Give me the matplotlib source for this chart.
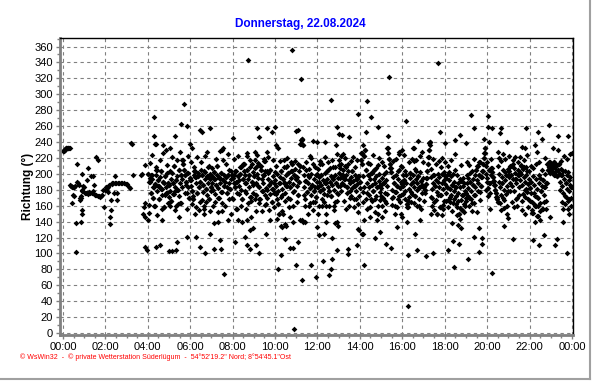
import matplotlib
matplotlib.use("Agg")
import numpy as np
import matplotlib.pyplot as plt
from matplotlib.ticker import MultipleLocator, FuncFormatter
from matplotlib.lines import Line2D

# wind direction readings, 22.08.2024
# 00:00 - 04:00, sparse readings (hour, degrees)
early_t = [0.00, 0.03, 0.05, 0.08, 0.10, 0.13, 0.16, 0.19, 0.22, 0.25, 0.28, 0.31,
           0.33, 0.36, 0.40, 0.44, 0.47, 0.50, 0.53, 0.57, 0.49, 0.52, 0.44, 0.60,
           0.63, 0.64, 0.68, 0.72, 0.76, 0.80, 0.82, 0.85, 0.86, 0.88, 0.90, 0.85,
           0.91, 0.91, 0.91, 0.95, 0.99, 1.04, 1.08, 1.11, 1.14, 1.19, 1.19, 1.23,
           1.27, 1.32, 1.37, 1.40, 1.43, 1.43, 1.47, 1.52, 1.58, 1.58, 1.63, 1.66,
           1.70, 1.74, 1.78, 1.82, 1.88, 1.94, 1.98, 2.02, 2.05, 2.08, 2.13, 2.13,
           2.17, 2.21, 2.21, 2.26, 2.26, 2.29, 2.33, 2.37, 2.41, 2.45, 2.45, 2.50,
           2.53, 2.57, 2.60, 2.66, 2.73, 2.80, 2.88, 2.95, 3.04, 3.10, 3.15, 3.20,
           3.25, 3.31, 3.70, 3.74, 3.78, 3.83, 3.86, 3.89, 3.89, 3.89, 3.94, 4.01]
early_v = [229, 229, 230, 231, 230, 232, 232, 233, 233, 233, 232, 233,
           186, 185, 185, 184, 184, 183, 183, 185, 173, 172, 163, 138,
           102, 212, 190, 188, 186, 167, 170, 170, 172, 180, 178, 140,
           154, 149, 200, 185, 183, 176, 176, 176, 192, 207, 175, 177,
           176, 197, 176, 178, 197, 176, 186, 174, 173, 221, 218, 172,
           172, 171, 172, 174, 180, 158, 180, 181, 183, 182, 184, 177,
           186, 146, 137, 167, 154, 188, 187, 188, 176, 197, 189, 189,
           167, 176, 189, 188, 188, 188, 188, 187, 187, 184, 182, 239,
           237, 199, 199, 200, 150, 158, 163, 211, 146, 108, 104, 142]

# 04:00 - 24:00, main band, one reading per minute:
# odd minutes (a) and even minutes (b), 30 readings per hour each
a04 = [200, 161, 190, 195, 176, 198, 194, 170, 183, 160, 187, 199, 205, 178, 192,
       185, 168, 196, 203, 181, 174, 190, 188, 158, 197, 183, 176, 201, 189, 171]
a05 = [186, 179, 193, 166, 201, 188, 175, 210, 184, 159, 192, 197, 180, 172, 205,
       188, 163, 199, 194, 218, 212, 205, 198, 186, 190, 176, 201, 183, 170, 195]
a06 = [192, 185, 179, 172, 168, 199, 203, 196, 188, 176, 201, 197, 183, 165, 190,
       205, 199, 177, 186, 160, 194, 202, 181, 174, 197, 189, 168, 200, 193, 183]
a07 = [188, 197, 180, 202, 193, 175, 186, 199, 210, 182, 170, 195, 189, 201, 177,
       163, 192, 198, 185, 190, 196, 183, 176, 199, 205, 188, 181, 193, 170, 198]
a08 = [195, 188, 199, 183, 204, 190, 176, 197, 192, 185, 200, 208, 180, 169, 194,
       203, 212, 198, 188, 176, 205, 193, 183, 199, 208, 171, 166, 190, 202, 186]
a09 = [197, 207, 189, 173, 200, 214, 195, 183, 168, 210, 205, 193, 178, 188, 199,
       216, 203, 182, 170, 194, 201, 186, 175, 205, 190, 165, 181, 197, 188, 176]
a10 = [192, 185, 200, 178, 162, 150, 188, 196, 203, 181, 173, 194, 208, 189, 176,
       198, 185, 210, 201, 190, 168, 183, 195, 204, 212, 187, 179, 198, 206, 193]
a11 = [196, 185, 174, 203, 190, 210, 238, 242, 244, 236, 198, 183, 169, 191, 205,
       177, 188, 160, 196, 182, 173, 200, 186, 165, 193, 179, 184, 198, 171, 190]
a12 = [183, 196, 190, 178, 186, 199, 169, 192, 181, 175, 201, 188, 160, 194, 183,
       205, 178, 190, 197, 172, 186, 208, 193, 180, 164, 199, 188, 176, 195, 185]
a13 = [201, 207, 195, 212, 189, 198, 205, 186, 193, 210, 199, 176, 184, 203, 192,
       170, 188, 196, 182, 204, 191, 168, 185, 199, 178, 193, 187, 162, 197, 182]
a14 = [190, 218, 226, 212, 197, 184, 222, 230, 205, 188, 176, 214, 199, 183, 193,
       168, 201, 186, 178, 194, 205, 189, 172, 197, 183, 160, 191, 200, 177, 186]
a15 = [182, 195, 170, 188, 200, 176, 163, 192, 185, 232, 226, 219, 213, 207, 202,
       180, 171, 196, 188, 160, 177, 199, 185, 168, 193, 205, 182, 174, 190, 187]
a16 = [198, 185, 192, 204, 178, 188, 162, 158, 166, 181, 195, 201, 187, 175, 199,
       190, 183, 206, 172, 193, 188, 180, 197, 169, 184, 202, 191, 176, 186, 195]
a17 = [183, 176, 180, 187, 195, 203, 212, 221, 230, 240, 196, 181, 170, 188, 199,
       164, 185, 192, 177, 150, 190, 183, 196, 158, 174, 188, 200, 181, 166, 192]
a18 = [187, 195, 176, 183, 200, 168, 192, 181, 174, 197, 186, 163, 190, 179, 205,
       184, 172, 158, 188, 176, 150, 183, 167, 191, 155, 174, 185, 162, 179, 170]
a19 = [176, 188, 195, 182, 170, 201, 190, 178, 163, 194, 186, 173, 199, 184, 205,
       192, 210, 188, 198, 215, 177, 185, 196, 204, 212, 220, 226, 232, 200, 190]
a20 = [195, 182, 205, 188, 176, 199, 207, 202, 196, 191, 186, 180, 176, 171, 168,
       165, 190, 200, 183, 174, 196, 188, 205, 180, 167, 192, 199, 185, 160, 178]
a21 = [196, 203, 188, 210, 199, 185, 193, 207, 178, 201, 194, 189, 170, 205, 198,
       183, 192, 211, 200, 186, 175, 196, 208, 190, 181, 199, 204, 187, 168, 193]
a22 = [182, 176, 190, 165, 151, 197, 186, 172, 160, 193, 181, 147, 170, 188, 195,
       163, 178, 185, 156, 192, 174, 183, 200, 166, 189, 212, 205, 208, 215, 201]
a23 = [210, 206, 213, 201, 215, 198, 208, 203, 211, 197, 205, 212, 200, 190, 206,
       198, 185, 176, 194, 203, 172, 188, 181, 199, 166, 192, 178, 186, 170, 183]

b04 = [200, 151, 190, 214, 176, 198, 224, 170, 183, 160, 187, 209, 205, 148, 192,
       185, 168, 218, 203, 181, 156, 190, 226, 158, 197, 173, 176, 211, 189, 163]
b05 = [186, 159, 203, 166, 221, 188, 175, 210, 154, 179, 192, 217, 180, 162, 205,
       228, 163, 199, 184, 218, 212, 205, 198, 176, 190, 156, 201, 223, 170, 195]
b06 = [192, 215, 179, 162, 168, 209, 203, 196, 158, 176, 221, 197, 183, 155, 190,
       215, 199, 167, 186, 150, 204, 222, 181, 164, 197, 209, 168, 210, 153, 183]
b07 = [178, 207, 160, 202, 193, 165, 186, 219, 210, 152, 170, 195, 229, 201, 177,
       153, 192, 218, 185, 160, 196, 213, 176, 199, 225, 168, 181, 203, 150, 198]
b08 = [195, 168, 219, 183, 204, 190, 156, 197, 222, 175, 200, 208, 160, 169, 194,
       213, 212, 178, 188, 156, 205, 223, 163, 199, 218, 171, 146, 190, 212, 176]
b09 = [197, 217, 169, 173, 210, 224, 185, 163, 168, 210, 205, 153, 178, 198, 219,
       216, 173, 162, 180, 204, 221, 186, 155, 205, 190, 165, 181, 217, 158, 176]
b10 = [202, 175, 210, 168, 162, 150, 188, 216, 203, 171, 153, 194, 218, 189, 166,
       208, 185, 220, 201, 170, 158, 183, 215, 204, 212, 177, 159, 198, 216, 193]
b11 = [196, 165, 174, 213, 190, 210, 238, 242, 244, 236, 208, 173, 159, 191, 215,
       177, 198, 150, 206, 182, 163, 220, 186, 155, 213, 179, 164, 208, 171, 200]
b12 = [183, 206, 160, 178, 216, 199, 159, 212, 181, 165, 221, 188, 150, 204, 173,
       215, 178, 160, 207, 172, 196, 218, 193, 160, 154, 209, 188, 166, 225, 175]
b13 = [211, 217, 185, 222, 179, 198, 225, 166, 193, 220, 209, 156, 184, 213, 192,
       160, 178, 216, 172, 204, 221, 158, 185, 209, 168, 193, 217, 152, 197, 172]
b14 = [190, 218, 226, 212, 177, 164, 222, 230, 205, 168, 156, 214, 199, 173, 213,
       158, 201, 166, 178, 224, 205, 169, 152, 207, 183, 150, 211, 220, 167, 186]
b15 = [172, 215, 160, 188, 210, 166, 153, 202, 175, 232, 226, 219, 213, 207, 202,
       170, 161, 216, 188, 150, 177, 219, 185, 158, 203, 225, 172, 164, 210, 187]
b16 = [208, 175, 192, 224, 168, 198, 162, 158, 166, 171, 215, 201, 177, 165, 219,
       190, 163, 216, 172, 203, 218, 160, 197, 159, 184, 222, 191, 156, 186, 215]
b17 = [183, 166, 180, 187, 195, 203, 212, 221, 230, 240, 206, 171, 160, 198, 219,
       154, 185, 212, 167, 150, 200, 173, 216, 158, 174, 208, 220, 161, 156, 202]
b18 = [197, 215, 166, 183, 210, 158, 202, 171, 164, 217, 186, 153, 200, 169, 225,
       184, 162, 148, 198, 166, 150, 193, 157, 211, 155, 174, 195, 152, 189, 160]
b19 = [166, 198, 215, 172, 160, 211, 190, 168, 153, 204, 186, 163, 219, 174, 205,
       152, 210, 178, 198, 215, 167, 185, 196, 204, 212, 220, 226, 232, 210, 180]
b20 = [215, 172, 205, 188, 156, 219, 207, 202, 196, 191, 186, 180, 176, 171, 168,
       165, 210, 220, 163, 154, 216, 188, 225, 170, 157, 202, 219, 175, 150, 198]
b21 = [206, 223, 178, 210, 199, 165, 213, 217, 158, 221, 194, 169, 160, 215, 198,
       173, 202, 221, 210, 166, 155, 206, 218, 180, 171, 209, 224, 177, 158, 203]
b22 = [182, 166, 210, 155, 151, 207, 176, 162, 160, 213, 171, 147, 160, 198, 215,
       153, 178, 205, 156, 192, 164, 183, 220, 156, 189, 212, 205, 208, 215, 201]
b23 = [210, 206, 213, 201, 215, 198, 208, 203, 211, 197, 205, 212, 200, 180, 216,
       198, 165, 156, 204, 223, 162, 188, 171, 219, 156, 202, 168, 196, 160, 183]

# scattered readings outside the band (hour, degrees)
outer_t = [4.31, 4.28, 4.35, 4.40, 4.59, 4.98, 5.14, 5.34, 5.37, 5.69, 5.56, 5.87,
           5.84, 6.28, 6.44, 6.70, 6.91, 7.13, 7.44, 7.41, 7.57, 6.94, 6.44, 6.55,
           8.04, 8.71, 9.17, 9.60, 9.84, 10.00, 9.26, 8.13, 8.59, 8.67, 8.82, 9.10,
           9.26, 9.58, 8.95, 8.82, 10.16, 10.30, 10.28,
           10.82, 11.22, 15.39, 12.66, 14.32, 13.93, 14.51, 16.17, 14.87, 14.30, 11.00,
           11.10, 12.90, 13.03, 13.14, 13.50, 15.34, 16.75, 10.90, 16.28, 10.45, 10.69,
           10.87, 11.10, 10.98, 11.26, 11.69, 11.92, 12.28, 12.56, 12.63, 12.67, 12.33,
           12.70, 12.94, 13.46, 13.46, 13.85, 14.20, 13.94, 14.16, 14.69, 15.25, 15.49,
           16.28, 16.60, 16.68, 12.00, 12.09, 10.53, 10.87, 11.26, 11.42, 12.83, 12.99,
           12.02, 10.69,
           17.67, 19.25, 20.02, 19.36, 20.02, 20.22, 20.65, 20.62, 21.83, 22.94, 22.42,
           23.36, 23.83, 17.76, 18.70, 17.14, 17.44, 18.42, 19.10, 19.60, 20.22, 19.36,
           19.76, 19.76, 18.39, 18.66, 18.14, 21.22, 22.16, 22.47, 22.66, 23.18, 23.29,
           23.76, 19.63, 18.77, 18.63]
outer_v = [271, 247, 238, 108, 110, 103, 103, 104, 114, 288, 263, 260,
           121, 121, 108, 101, 124, 106, 106, 117, 74, 257, 255, 253,
           245, 343, 257, 257, 253, 259, 246, 114, 121, 110, 106, 110,
           101, 125, 132, 129, 81, 98, 135,
           356, 319, 322, 293, 292, 275, 271, 266, 259, 253, 254,
           255, 259, 250, 249, 246, 247, 241, 5, 34, 118, 107,
           107, 114, 86, 66, 86, 70, 91, 73, 81, 93, 125,
           120, 104, 106, 99, 111, 85, 130, 125, 120, 112, 107,
           98, 124, 104, 133, 123, 135, 139, 142, 139, 138, 135,
           149, 146,
           339, 274, 273, 258, 259, 258, 258, 251, 257, 261, 252,
           248, 248, 252, 249, 97, 100, 83, 93, 102, 75, 121,
           119, 112, 115, 112, 104, 118, 117, 111, 123, 111, 118,
           100, 132, 132, 136]

# upper (215-245) and lower (125-160) fringe of the band
fringe_t = [4.40, 4.71, 5.06, 5.29, 4.87, 6.00, 6.08, 7.49, 7.53, 8.70, 9.06, 9.60,
            10.05, 10.16, 6.78, 11.81, 11.97, 12.36, 12.88, 14.16, 15.86, 15.97, 16.52,
            12.13, 11.66, 16.54, 16.93, 17.25, 17.32, 18.03, 18.50, 19.02, 19.84, 20.10,
            20.50, 20.93, 21.64, 21.80, 22.27, 22.34, 22.58, 23.13, 23.36, 23.90, 23.98,
            4.67, 5.45, 6.24, 6.63, 7.10, 7.33, 7.80, 8.27, 8.43, 8.67, 9.76, 10.08,
            10.34, 10.47, 8.16, 9.10, 9.53, 10.36, 11.18, 11.34, 12.41, 12.91, 13.93,
            14.09, 14.48, 14.82, 14.95, 15.73, 15.92, 15.97, 16.20, 15.03, 14.20, 16.85,
            17.36, 17.87, 18.35, 18.74, 20.78, 21.00, 21.80, 22.27, 22.97, 23.60, 23.88,
            22.50]
fringe_v = [238, 236, 233, 247, 230, 237, 232, 230, 233, 226, 227, 227,
            236, 233, 227, 241, 240, 240, 236, 236, 228, 230, 232,
            213, 223, 232, 228, 239, 236, 239, 242, 239, 244, 240,
            228, 240, 234, 232, 236, 228, 244, 232, 230, 225, 226,
            142, 146, 150, 156, 138, 140, 142, 142, 139, 142, 142, 143,
            133, 137, 156, 153, 161, 150, 142, 140, 140, 140, 131,
            125, 146, 142, 127, 133, 150, 146, 139, 146, 142, 142,
            150, 148, 138, 143, 135, 145, 150, 140, 146, 140, 149,
            142]

title = "Donnerstag, 22.08.2024"
footer = "\u00a9 WsWin32  -  \u00a9 private Wetterstation S\u00fcderl\u00fcgum  -  54\u00b052'19.2\" Nord; 8\u00b054'45.1\"Ost"

odd_hours = [a04, a05, a06, a07, a08, a09, a10, a11, a12, a13,
             a14, a15, a16, a17, a18, a19, a20, a21, a22, a23]
even_hours = [b04, b05, b06, b07, b08, b09, b10, b11, b12, b13,
              b14, b15, b16, b17, b18, b19, b20, b21, b22, b23]
band_t = []
band_v = []
for k in range(len(odd_hours)):
    for i in range(30):
        band_t.append(4 + k + (2 * i + 1) / 60.0)
        band_v.append(odd_hours[k][i])
        band_t.append(4 + k + (2 * i) / 60.0)
        band_v.append(even_hours[k][i])

plt.rcParams['font.family'] = ['Liberation Sans', 'DejaVu Sans']

fig = plt.figure(figsize=(5.92, 3.84), dpi=100)
ax = fig.add_axes([60 / 592, 1 - 335 / 384, 513 / 592, 297 / 384])

mk = dict(marker='D', markersize=2.9, color='black', linestyle='none', markeredgewidth=0)
ax.plot(early_t, early_v, **mk)
ax.plot(band_t, band_v, **mk)
ax.plot(outer_t, outer_v, **mk)
ax.plot(fringe_t, fringe_v, **mk)

ax.set_xlim(-0.14, 24.05)
ax.set_ylim(-2.5, 370.7)
ax.xaxis.set_major_locator(MultipleLocator(2))
ax.xaxis.set_minor_locator(MultipleLocator(0.5))
ax.xaxis.set_major_formatter(FuncFormatter(lambda v, p: "%02d:00" % (int(round(v)) % 24)))
ax.yaxis.set_major_locator(MultipleLocator(20))
ax.yaxis.set_minor_locator(MultipleLocator(10))

ax.grid(True, which='major', color='#808080', linestyle=(0, (3, 3)), linewidth=0.8)
ax.set_axisbelow(True)

for s in ['left', 'bottom']:
    ax.spines[s].set_color('#808080')
    ax.spines[s].set_linewidth(2.0)
for s in ['top', 'right']:
    ax.spines[s].set_color('black')
    ax.spines[s].set_linewidth(1.0)

ax.tick_params(which='major', direction='out', length=3, width=1, color='#808080',
               labelsize=8, pad=2)
ax.tick_params(which='minor', direction='out', length=2, width=1, color='#808080')

ax.set_ylabel("Richtung (\u00b0)", fontsize=8.5, fontweight='bold')
ax.yaxis.set_label_coords(-0.05, 0.5)
fig.text(300 / 592, 1 - 24 / 384, title, color='#0000ff', fontsize=8.5,
         fontweight='bold', ha='center', va='center')
fig.text(20 / 592, 1 - 357 / 384, footer, color='#ff0000', fontsize=5.0,
         ha='left', va='center')

# window border
fig.add_artist(Line2D([0, 590 / 592], [1 - 379 / 384, 1 - 379 / 384],
                      transform=fig.transFigure, color='#a0a0a0', linewidth=1.5))
fig.add_artist(Line2D([590 / 592, 590 / 592], [1 - 379 / 384, 1],
                      transform=fig.transFigure, color='#a0a0a0', linewidth=1.5))

fig.savefig("out.png", dpi=100)
plt.close(fig)
